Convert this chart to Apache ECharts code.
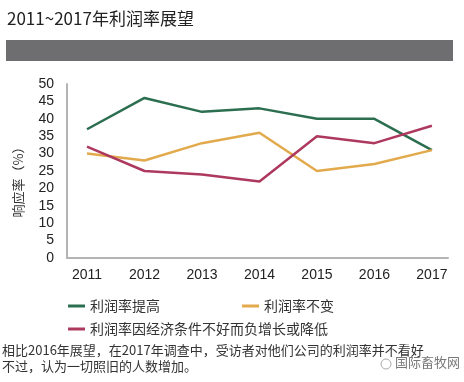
<!DOCTYPE html>
<html>
<head>
<meta charset="utf-8">
<script src="https://cdn.jsdelivr.net/npm/echarts@6/dist/echarts.min.js"></script>
<style>
html,body{margin:0;padding:0;background:#fff;}
#c{width:464px;height:382px;}
</style>
</head>
<body>
<div id="c"></div>
<script>
const years = [2011, 2012, 2013, 2014, 2015, 2016, 2017];
const seriesNames = ['利润率提高', '利润率不变', '利润率因经济条件不好而负增长或降低'];
const improved = [37, 46, 42, 43, 40, 40, 31];
const unchanged = [30, 28, 33, 36, 25, 27, 31];
const declined = [32, 25, 24, 22, 35, 33, 38];
const yTicks = [0, 5, 10, 15, 20, 25, 30, 35, 40, 45, 50];
const colors = ['#2b6e50', '#e2aa4c', '#ad3a5e'];

const chart = echarts.init(document.getElementById('c'), null, {renderer: 'canvas'});
const font = '"Noto Sans CJK SC", "Liberation Sans", Arial, sans-serif';
const pairs = arr => arr.map((v, i) => [years[i], v]);

chart.setOption({
  animation: false,
  textStyle: {fontFamily: font},
  grid: {left: 67, right: 16, top: 84, bottom: 124, containLabel: false},
  xAxis: {
    type: 'value',
    min: 2010.652,
    max: 2017.28,
    splitLine: {show: false},
    axisLine: {show: true, lineStyle: {color: '#b4b4b4', width: 2}},
    axisTick: {show: false},
    axisLabel: {customValues: years, formatter: v => String(v), color: '#222', fontSize: 14, margin: 10, fontFamily: 'Liberation Sans, Arial, sans-serif'}
  },
  yAxis: {
    type: 'value',
    min: 0, max: 50, interval: 5,
    name: '响应率（%）',
    nameLocation: 'middle',
    nameRotate: 90,
    nameGap: 42,
    nameTextStyle: {color: '#333', fontSize: 13, padding: [0, 0, 0, -16]},
    splitLine: {show: false},
    axisLine: {show: true, lineStyle: {color: '#b4b4b4', width: 2}},
    axisTick: {show: false},
    axisLabel: {color: '#222', fontSize: 14, margin: 13, fontFamily: 'Liberation Sans, Arial, sans-serif',
      customValues: yTicks}
  },
  legend: [
    {
      data: [seriesNames[0], seriesNames[1]],
      left: 63, top: 294,
      icon: 'rect', itemWidth: 17, itemHeight: 3, itemGap: 82,
      textStyle: {fontSize: 14, color: '#333'}
    },
    {
      data: [seriesNames[2]],
      left: 63, top: 317,
      icon: 'rect', itemWidth: 17, itemHeight: 3,
      textStyle: {fontSize: 14, color: '#333'}
    }
  ],
  graphic: [
    {type: 'text', left: 7, top: 10, style: {text: '2011~2017年利润率展望', fill: '#222', font: '17px ' + font}},
    {type: 'rect', shape: {x: 6, y: 40, width: 447, height: 21}, style: {fill: '#6e6e70'}},
    {type: 'text', left: 2, top: 344, style: {text: '相比2016年展望，在2017年调查中，受访者对他们公司的利润率并不看好', fill: '#333', font: '13px ' + font}},
    {type: 'text', left: 2, top: 360, style: {text: '不过，认为一切照旧的人数增加。', fill: '#333', font: '13px ' + font}},
    {type: 'circle', shape: {cx: 386, cy: 364, r: 5}, style: {fill: 'none', stroke: '#aaa', lineWidth: 1}},
    {type: 'text', left: 395, top: 356, style: {text: '国际畜牧网', fill: '#777', font: '13px ' + font}}
  ],
  series: [
    {name: seriesNames[0], type: 'line', data: pairs(improved), symbol: 'none', lineStyle: {color: colors[0], width: 2.5}, itemStyle: {color: colors[0]}},
    {name: seriesNames[1], type: 'line', data: pairs(unchanged), symbol: 'none', lineStyle: {color: colors[1], width: 2.5}, itemStyle: {color: colors[1]}},
    {name: seriesNames[2], type: 'line', data: pairs(declined), symbol: 'none', lineStyle: {color: colors[2], width: 2.5}, itemStyle: {color: colors[2]}}
  ]
});
</script>
</body>
</html>
